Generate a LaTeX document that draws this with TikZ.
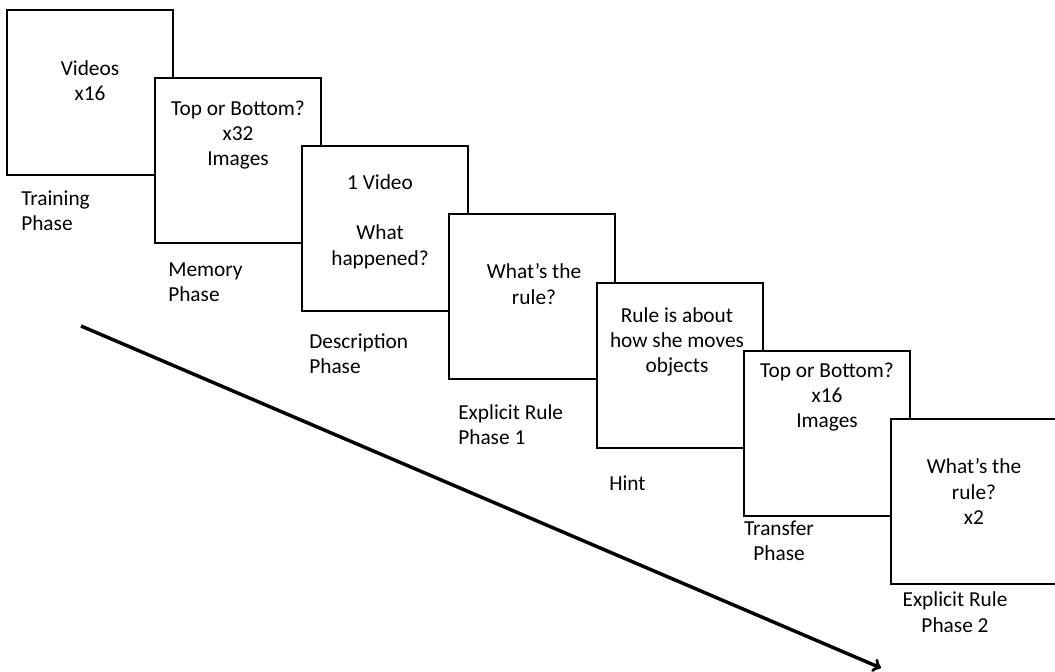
\documentclass[tikz,border=0pt]{standalone}
\usepackage{fontspec}
\setmainfont{Carlito}
\usetikzlibrary{positioning}

\begin{document}
\begin{tikzpicture}[x=0.75pt,y=-0.75pt,
  panel/.style={draw, fill=white, line width=1pt, anchor=north west,
    minimum width=124.5pt, minimum height=123.75pt, inner sep=0pt, outer sep=0pt},
  txt/.style={align=center, inner sep=0pt, font=\fontsize{16}{19}\selectfont},
  lbl/.style={align=left, anchor=west, inner sep=0pt, font=\fontsize{16}{19}\selectfont}]
\useasboundingbox (0,0) rectangle (1055,671);

% the seven screens, each one drawn over the last
\node[panel] (train) at (7,10) {};
\node[txt] (traintxt) at (90,81) {Videos\\x16};
\node[lbl] (trainlbl) at (21,211) {Training\\Phase};

\node[panel] (memory) at (155,78) {};
\node[txt] (memorytxt) at (238,135) {Top or Bottom?\\x32\\Images};
\node[lbl] (memorylbl) at (168,282.5) {Memory\\Phase};

\node[panel] (descr) at (302,146) {};
\node[txt] (descrtxt) at (380,221.5) {1 Video\\[19pt]What\\happened?};
\node[lbl] (descrlbl) at (309,353.5) {Description\\Phase};

\node[panel] (rule) at (449,214) {};
\node[txt] (ruletxt) at (534,284) {What’s the\\rule?};
\node[lbl] (rulelbl) at (458,424.5) {Explicit Rule\\Phase 1};

\node[panel] (hint) at (597,283) {};
\node[txt] (hinttxt) at (677,342) {Rule is about\\how she moves\\objects};
\node[lbl] (hintlbl) at (609,483) {Hint};

\node[panel] (transfer) at (744,351) {};
\node[txt] (transfertxt) at (827,397) {Top or Bottom?\\x16\\Images};
\node[txt] (transferlbl) at (779,540.5) {Transfer\\Phase};

\node[panel] (ruletwo) at (891,419) {};
\node[txt] (ruletwotxt) at (974,491.5) {What’s the\\rule?\\x2};
\node[txt] (ruletwolbl) at (955,612) {Explicit Rule\\Phase 2};

% time arrow
\coordinate (tstart) at (81,326);
\coordinate (tend) at (881,668);
\draw[->, line width=2.6pt] (tstart) -- (tend);
\end{tikzpicture}
\end{document}
